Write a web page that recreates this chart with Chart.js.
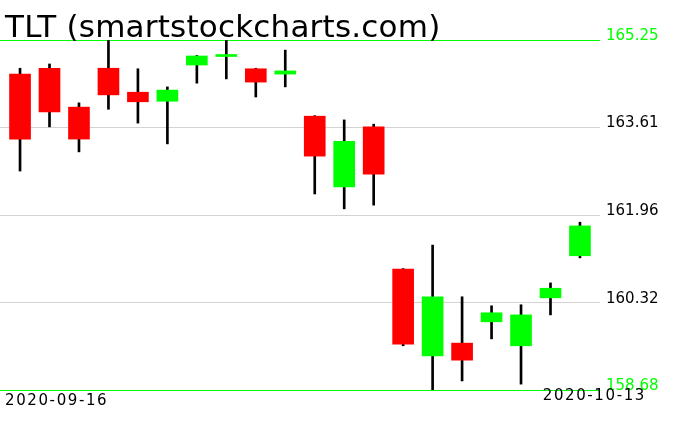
<!DOCTYPE html>
<html>
<head>
<meta charset="utf-8">
<script src="https://cdn.jsdelivr.net/npm/chart.js@4/dist/chart.umd.min.js"></script>
<style>
  body { margin: 0; background: #fff; }
  canvas { display: block; }
</style>
</head>
<body>
<canvas id="chart" width="676" height="431"></canvas>
<script>
const title = 'TLT (smartstockcharts.com)';

const dates = [
	'2020-09-16', '2020-09-17', '2020-09-18', '2020-09-21', '2020-09-22',
	'2020-09-23', '2020-09-24', '2020-09-25', '2020-09-28', '2020-09-29',
	'2020-09-30', '2020-10-01', '2020-10-02', '2020-10-05', '2020-10-06',
	'2020-10-07', '2020-10-08', '2020-10-09', '2020-10-12', '2020-10-13',
];

const opens  = [164.61, 164.72, 163.99, 164.72, 164.27, 164.10, 164.78, 164.94, 164.71, 164.61,
                163.82, 162.49, 163.62, 160.95, 159.32, 159.56, 159.96, 159.51, 160.41, 161.20];
const highs  = [164.72, 164.80, 164.07, 165.25, 164.71, 164.37, 164.96, 165.25, 164.72, 165.06,
                163.83, 163.75, 163.67, 160.96, 161.40, 160.43, 160.26, 160.28, 160.69, 161.83];
const lows   = [162.79, 163.62, 163.15, 163.95, 163.69, 163.30, 164.44, 164.52, 164.18, 164.37,
                162.36, 162.08, 162.15, 159.51, 158.68, 158.85, 159.64, 158.79, 160.09, 161.16];
const closes = [163.39, 163.90, 163.39, 164.22, 164.09, 164.31, 164.95, 164.95, 164.46, 164.67,
                163.07, 163.35, 162.73, 159.54, 160.43, 159.24, 160.13, 160.09, 160.59, 161.76];

const yTicks = [158.68, 160.32, 161.96, 163.61, 165.25];

const UP = '#00ff00';
const DOWN = '#ff0000';

const candleColors = opens.map((o, i) => (closes[i] >= o ? UP : DOWN));

// title and first / last date drawn on the canvas
const textPlugin = {
	id: 'texts',
	afterDraw(chart) {
		const ctx = chart.ctx;
		const x = chart.scales.x;
		ctx.save();
		ctx.fillStyle = '#000';
		ctx.textBaseline = 'alphabetic';
		ctx.font = '31px "DejaVu Sans"';
		ctx.letterSpacing = '0.2px';
		ctx.textAlign = 'left';
		ctx.fillText(title, 5, 37);

		ctx.font = '15px "DejaVu Sans"';
		ctx.letterSpacing = '1.6px';
		ctx.textBaseline = 'middle';
		ctx.textAlign = 'left';
		ctx.fillText(dates[0], x.getPixelForValue(0) - 15, 401);
		ctx.textAlign = 'right';
		ctx.fillText(dates[dates.length - 1], x.getPixelForValue(dates.length - 1) + 66, 396);
		ctx.restore();
	},
};

const chart = new Chart(document.getElementById('chart'), {
	type: 'bar',
	data: {
		datasets: [
			{
				label: 'body',
				data: dates.map((d, i) => ({ x: i, y: [opens[i], closes[i]] })),
				backgroundColor: candleColors,
				borderWidth: 0,
				barThickness: 21,
				minBarLength: 2,
				grouped: false,
				order: 1,
			},
			{
				label: 'wick',
				data: dates.map((d, i) => ({ x: i, y: [lows[i], highs[i]] })),
				backgroundColor: '#000',
				borderWidth: 0,
				barThickness: 2,
				grouped: false,
				order: 2,
			},
		],
	},
	options: {
		responsive: false,
		animation: false,
		layout: { padding: { top: 40, bottom: 41, left: 0, right: 0 } },
		plugins: {
			legend: { display: false },
			tooltip: { enabled: false },
		},
		scales: {
			x: {
				type: 'linear',
				display: false,
				offset: false,
				min: -0.68,
				max: dates.length - 1 + 0.68,
			},
			y: {
				position: 'right',
				min: yTicks[0],
				max: yTicks[yTicks.length - 1],
				afterBuildTicks: (scale) => {
					scale.ticks = yTicks.map((v) => ({ value: v }));
				},
				afterFit: (scale) => {
					scale.width = 76;
				},
				border: { display: false },
				grid: {
					drawTicks: false,
					lineWidth: 1,
					color: (ctx) => (ctx.index === 0 || ctx.index === yTicks.length - 1 ? UP : '#d3d3d3'),
				},
				ticks: {
					padding: 6,
					labelOffset: -4,
					font: { family: 'DejaVu Sans', size: 15 },
					color: (ctx) => (ctx.index === 0 || ctx.index === yTicks.length - 1 ? UP : '#000'),
					callback: (v) => v.toFixed(2),
				},
			},
		},
	},
	plugins: [textPlugin],
});
</script>
</body>
</html>
